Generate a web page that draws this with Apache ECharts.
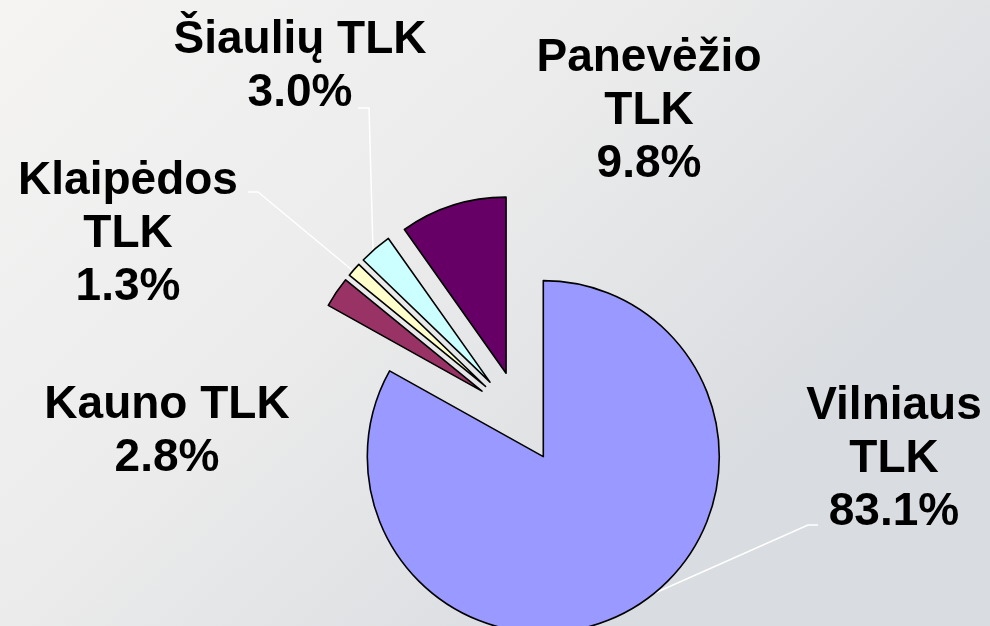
<!DOCTYPE html>
<html>
<head>
<meta charset="utf-8">
<script src="https://cdn.jsdelivr.net/npm/echarts@6/dist/echarts.min.js"></script>
<style>
  html, body { margin: 0; padding: 0; }
  #chart { width: 990px; height: 626px; }
</style>
</head>
<body>
<div id="chart"></div>
<script>
// duomenys (dalis %, pagal laikrodžio rodyklę nuo viršaus)
var categories = ['Vilniaus\nTLK', 'Kauno TLK', 'Klaipėdos\nTLK', 'Šiaulių TLK', 'Panevėžio\nTLK']
var shares = [83.1, 2.8, 1.3, 3.0, 9.8]
var colors = ['#9999FF', '#993366', '#FFFFCC', '#CCFFFF', '#660066']

// etikečių vietos ir rodyklių linijos
var labelPos = [[894, 459], [167, 432], [128, 234], [300, 67], [649, 111]]
var leaderLines = [
  [[637, 601], [808, 525], [818, 525]],
  null,
  [[352, 270], [258, 192], [248, 192]],
  [[373, 250], [369, 108], [358, 108]],
  null
]

var pieCenter = [520, 417]
var pieRadius = 176
var explode = 46

var chart = echarts.init(document.getElementById('chart'))

// kiekviena dalis atskira serija, pastumta nuo centro (išskleista diagrama)
var total = shares.reduce(function (a, b) { return a + b }, 0)
var series = []
var acc = 0
shares.forEach(function (v, k) {
  var mid = (acc + v / 2) / total * Math.PI * 2
  acc += v
  var cx = pieCenter[0] + explode * Math.sin(mid)
  var cy = pieCenter[1] - explode * Math.cos(mid)
  series.push({
    type: 'pie',
    center: [cx, cy],
    radius: pieRadius,
    startAngle: 90,
    clockwise: true,
    silent: true,
    avoidLabelOverlap: false,
    emphasis: { disabled: true },
    label: {
      position: 'outside',
      formatter: function (p) { return p.name + '\n' + shares[p.dataIndex].toFixed(1) + '%' },
      fontFamily: '"Liberation Sans", Arial, sans-serif',
      fontWeight: 'bold',
      fontSize: 46,
      lineHeight: 53,
      color: '#000',
      align: 'center'
    },
    labelLine: { lineStyle: { color: '#FFFFFF', width: 1.5 } },
    labelLayout: function (params) {
      var i = params.dataIndex
      var out = { x: labelPos[i][0], y: labelPos[i][1], align: 'center', verticalAlign: 'middle' }
      if (leaderLines[i]) { out.labelLinePoints = leaderLines[i] }
      return out
    },
    data: categories.map(function (name, i) {
      var own = i === k
      return {
        name: name,
        value: shares[i],
        itemStyle: own
          ? { color: colors[i], borderColor: '#000', borderWidth: 1.6 }
          : { color: 'rgba(0,0,0,0)', borderWidth: 0 },
        label: { show: own },
        labelLine: { show: own && !!leaderLines[i] }
      }
    })
  })
})

chart.setOption({
  animation: false,
  backgroundColor: {
    type: 'linear', x: 0, y: 0, x2: 0.6, y2: 1,
    colorStops: [{ offset: 0, color: '#F5F4F3' }, { offset: 0.5, color: '#ECECEC' }, { offset: 1, color: '#D9DCE0' }]
  },
  series: series
})
</script>
</body>
</html>
